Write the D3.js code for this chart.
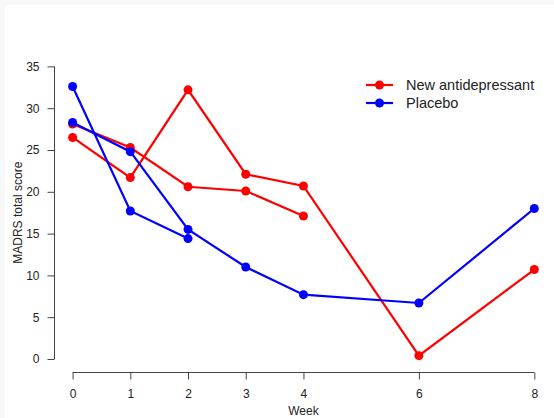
<!DOCTYPE html>
<html>
<head>
<meta charset="utf-8">
<script src="https://cdn.jsdelivr.net/npm/d3@7"></script>
<style>
  body { margin: 0; background: #f8f8f8; }
  svg { display: block; }
</style>
</head>
<body>
<div id="chart"></div>
<script>
// week ticks and the y ticks as drawn in the reference
var weekTicks = [0, 1, 2, 3, 4, 6, 8];
var scoreTicks = [0, 5, 10, 15, 20, 25, 30, 35];

// one line per patient: [week, MADRS score]
var drugA = [[0, 26.5], [1, 21.7], [2, 32.2], [3, 22.1], [4, 20.7], [6, 0.4], [8, 10.7]];
var drugB = [[0, 28.1], [1, 25.3], [2, 20.6], [3, 20.1], [4, 17.1]];
var placeboA = [[0, 32.6], [1, 17.7], [2, 14.4]];
var placeboB = [[0, 28.3], [1, 24.8], [2, 15.5], [3, 11.0], [4, 7.7], [6, 6.7], [8, 18.0]];

var legendNames = ["New antidepressant", "Placebo"];
var legendColors = ["#ff0000", "#0000ff"];

var W = 554, H = 418;

var svg = d3.select("#chart").append("svg")
    .attr("width", W)
    .attr("height", H)
    .style("font-family", "'Liberation Sans', Arial, sans-serif");

svg.append("rect")
    .attr("x", 5).attr("y", 5)
    .attr("width", W - 5).attr("height", H - 5)
    .attr("fill", "white");

var x = d3.scaleLinear().domain([0, 8]).range([72.6, 534.3]);
var y = d3.scaleLinear().domain([0, 35]).range([359, 66.4]);

// y axis, R style: detached from the plot
var yAxis = svg.append("g")
    .attr("transform", "translate(54.5,0)")
    .call(d3.axisLeft(y).tickValues(scoreTicks).tickSize(7).tickPadding(8));
yAxis.selectAll("text").style("font-size", "12px").attr("fill", "#222");

var xAxis = svg.append("g")
    .attr("transform", "translate(0,372.5)")
    .call(d3.axisBottom(x).tickValues(weekTicks).tickSize(7).tickPadding(10));
xAxis.selectAll("text").style("font-size", "12px").attr("fill", "#222");

[yAxis, xAxis].forEach(function(a) {
    a.select(".domain").attr("stroke", "#444");
    a.selectAll(".tick line").attr("stroke", "#444");
});
// R ends the axis line at the outer ticks, no end caps
yAxis.select(".domain").attr("d", "M0," + y(0) + "V" + y(35));
xAxis.select(".domain").attr("d", "M" + x(0) + ",0H" + x(8));

svg.append("text")
    .attr("x", x(4)).attr("y", 415)
    .attr("text-anchor", "middle")
    .style("font-size", "12px")
    .attr("fill", "#222")
    .text("Week");

svg.append("text")
    .attr("transform", "translate(22," + y(17.5) + ") rotate(-90)")
    .attr("text-anchor", "middle")
    .style("font-size", "12px")
    .attr("fill", "#222")
    .text("MADRS total score");

var line = d3.line()
    .x(function(d) { return x(d[0]); })
    .y(function(d) { return y(d[1]); });

var series = [
    {data: drugA, color: legendColors[0]},
    {data: drugB, color: legendColors[0]},
    {data: placeboA, color: legendColors[1]},
    {data: placeboB, color: legendColors[1]}
];

series.forEach(function(s) {
    svg.append("path")
        .datum(s.data)
        .attr("fill", "none")
        .attr("stroke", s.color)
        .attr("stroke-width", 2.2)
        .attr("d", line);
    svg.selectAll(null)
        .data(s.data)
        .enter().append("circle")
        .attr("cx", function(d) { return x(d[0]); })
        .attr("cy", function(d) { return y(d[1]); })
        .attr("r", 4.5)
        .attr("fill", s.color);
});

// legend
var legend = svg.append("g").attr("transform", "translate(366,85)");
legendNames.forEach(function(name, i) {
    var g = legend.append("g").attr("transform", "translate(0," + (i * 18) + ")");
    g.append("line")
        .attr("x1", 0).attr("x2", 27)
        .attr("stroke", legendColors[i])
        .attr("stroke-width", 2.2);
    g.append("circle")
        .attr("cx", 13.5).attr("r", 4.5)
        .attr("fill", legendColors[i]);
    g.append("text")
        .attr("x", 40).attr("dy", "0.35em")
        .style("font-size", "14.5px")
        .attr("fill", "#222")
        .text(name);
});
</script>
</body>
</html>
